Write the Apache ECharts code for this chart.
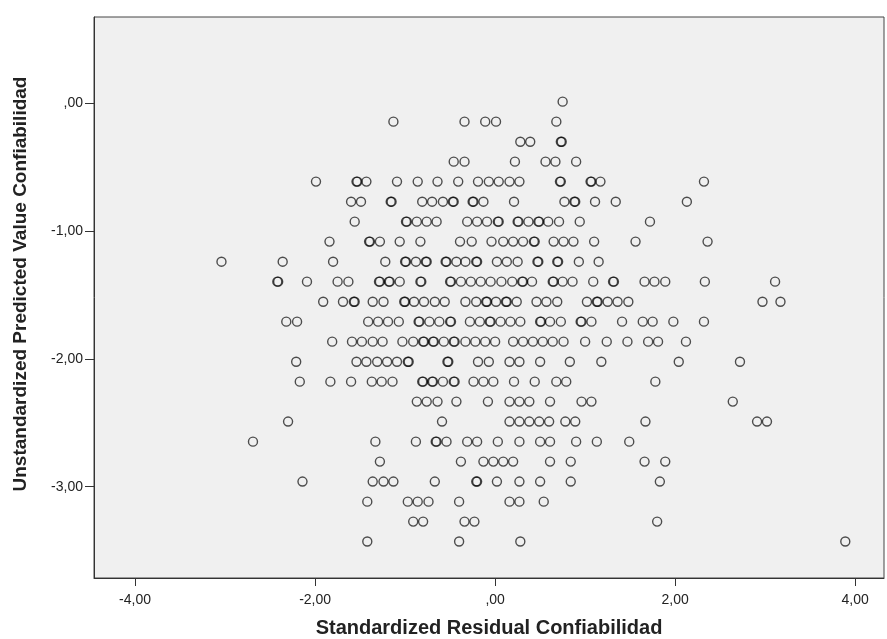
<!DOCTYPE html>
<html>
<head>
<meta charset="utf-8">
<script src="https://cdn.jsdelivr.net/npm/echarts@6/dist/echarts.min.js"></script>
<style>
  html, body { margin: 0; padding: 0; background: #ffffff; }
  #chart { width: 887px; height: 639px; }
</style>
</head>
<body>
<div id="chart"></div>
<script>
// Predicted values come in discrete levels; each level has its own residuals.
const levelY = [0.010, -0.146, -0.303, -0.459, -0.615, -0.772, -0.928, -1.084, -1.241, -1.397,
  -1.554, -1.710, -1.866, -2.023, -2.179, -2.335, -2.491, -2.648, -2.804, -2.960,
  -3.117, -3.273, -3.429];

// Standardized residuals observed at each predicted level (same order as levelY)
const residuals = [
  [0.75],
  [-1.13, -0.34, -0.11, 0.01, 0.68],
  [0.28, 0.39, 0.73, 0.74],
  [-0.46, -0.34, 0.22, 0.56, 0.67, 0.90],
  [-1.99, -1.54, -1.53, -1.43, -1.09, -0.86, -0.64, -0.41, -0.19, -0.07, 0.04, 0.16, 0.27, 0.72, 0.73, 1.06, 1.07, 1.17, 2.32],
  [-1.60, -1.49, -1.16, -1.15, -0.81, -0.70, -0.58, -0.47, -0.46, -0.25, -0.24, -0.13, 0.21, 0.77, 0.88, 0.89, 1.11, 1.34, 2.13],
  [-1.56, -0.99, -0.98, -0.87, -0.76, -0.65, -0.31, -0.20, -0.09, 0.03, 0.04, 0.25, 0.26, 0.37, 0.48, 0.49, 0.59, 0.71, 0.94, 1.72],
  [-1.84, -1.40, -1.39, -1.28, -1.06, -0.83, -0.39, -0.26, -0.04, 0.09, 0.20, 0.31, 0.43, 0.44, 0.65, 0.76, 0.87, 1.10, 1.56, 2.36],
  [-3.04, -2.36, -1.80, -1.22, -1.00, -0.99, -0.88, -0.77, -0.76, -0.55, -0.54, -0.43, -0.33, -0.21, -0.20, 0.02, 0.13, 0.25, 0.47, 0.48, 0.69, 0.70, 0.93, 1.15],
  [-2.42, -2.41, -2.09, -1.75, -1.63, -1.29, -1.28, -1.18, -1.17, -1.06, -0.83, -0.82, -0.50, -0.49, -0.38, -0.27, -0.16, -0.05, 0.07, 0.19, 0.30, 0.31, 0.41, 0.64, 0.65, 0.75, 0.86, 1.09, 1.31, 1.32, 1.66, 1.77, 1.89, 2.33, 3.11],
  [-1.91, -1.69, -1.57, -1.56, -1.36, -1.24, -1.01, -1.00, -0.90, -0.79, -0.67, -0.56, -0.33, -0.21, -0.10, -0.09, 0.01, 0.12, 0.13, 0.24, 0.46, 0.57, 0.69, 1.02, 1.13, 1.14, 1.25, 1.36, 1.48, 2.97, 3.17],
  [-2.32, -2.20, -1.41, -1.30, -1.19, -1.07, -0.85, -0.84, -0.73, -0.62, -0.50, -0.49, -0.28, -0.17, -0.06, -0.05, 0.06, 0.17, 0.28, 0.50, 0.51, 0.61, 0.73, 0.95, 0.96, 1.07, 1.41, 1.64, 1.75, 1.98, 2.32],
  [-1.81, -1.59, -1.48, -1.36, -1.25, -1.03, -0.91, -0.80, -0.79, -0.69, -0.68, -0.57, -0.46, -0.45, -0.33, -0.22, -0.11, 0.00, 0.20, 0.31, 0.42, 0.53, 0.64, 0.76, 1.00, 1.24, 1.47, 1.70, 1.81, 2.12],
  [-2.21, -1.54, -1.43, -1.31, -1.20, -1.09, -0.97, -0.96, -0.53, -0.52, -0.19, -0.07, 0.16, 0.27, 0.50, 0.83, 1.18, 2.04, 2.72],
  [-2.17, -1.83, -1.60, -1.37, -1.26, -1.14, -0.81, -0.80, -0.70, -0.69, -0.58, -0.46, -0.45, -0.24, -0.13, -0.02, 0.21, 0.44, 0.68, 0.79, 1.78],
  [-0.87, -0.76, -0.64, -0.43, -0.08, 0.16, 0.27, 0.38, 0.61, 0.96, 1.07, 2.64],
  [-2.30, -0.59, 0.16, 0.27, 0.38, 0.49, 0.60, 0.78, 0.89, 1.67, 2.91, 3.02],
  [-2.69, -1.33, -0.88, -0.66, -0.65, -0.54, -0.31, -0.20, 0.03, 0.27, 0.50, 0.61, 0.90, 1.13, 1.49],
  [-1.28, -0.38, -0.13, -0.02, 0.09, 0.20, 0.61, 0.84, 1.66, 1.89],
  [-2.14, -1.36, -1.24, -1.13, -0.67, -0.21, -0.20, 0.02, 0.27, 0.50, 0.84, 1.83],
  [-1.42, -0.97, -0.86, -0.74, -0.40, 0.16, 0.27, 0.54],
  [-0.91, -0.80, -0.34, -0.23, 1.80],
  [-1.42, -0.40, 0.28, 3.89]
];

const xTicks = [-4, -2, 0, 2, 4];
const yTicks = [0, -1, -2, -3];
const xTitle = 'Standardized Residual Confiabilidad';
const yTitle = 'Unstandardized Predicted Value Confiabilidad';

const points = [];
residuals.forEach((row, i) => row.forEach(x => points.push([x, levelY[i]])));

// Decimal comma labels; zero is written as ",00"
const fmt = v => {
  const s = Math.abs(v).toFixed(2).replace('.', ',').replace(/^0/, '');
  return (v < 0 ? '-' : '') + s;
};

const FONT = '"Liberation Sans", Arial, sans-serif';
const chart = echarts.init(document.getElementById('chart'), null, { renderer: 'canvas' });
chart.setOption({
  backgroundColor: '#ffffff',
  animation: false,
  grid: {
    left: 94, right: 3, top: 17, bottom: 61,
    outerBoundsMode: 'none',
    show: true, backgroundColor: '#f0f0f0', borderColor: '#444', borderWidth: 1
  },
  xAxis: {
    type: 'value', min: -4.456, max: 4.32,
    name: xTitle,
    nameLocation: 'middle', nameGap: 40,
    nameTextStyle: { fontFamily: FONT, fontWeight: 'bold', fontSize: 20, color: '#222' },
    axisLine: { show: true, onZero: false, lineStyle: { color: '#333', width: 1 } },
    axisTick: { show: true, length: 8, customValues: xTicks, lineStyle: { color: '#333' } },
    axisLabel: { customValues: xTicks, formatter: fmt, fontFamily: FONT, fontSize: 14, color: '#222', margin: 15 },
    splitLine: { show: false }
  },
  yAxis: {
    type: 'value', min: -3.714, max: 0.672,
    axisLine: { show: true, onZero: false, lineStyle: { color: '#333', width: 1 } },
    axisTick: { show: true, length: 9, customValues: yTicks, lineStyle: { color: '#333' } },
    axisLabel: { customValues: yTicks, formatter: fmt, fontFamily: FONT, fontSize: 14, color: '#222', margin: 11 },
    splitLine: { show: false }
  },
  graphic: [{
    type: 'text',
    x: 21, y: 284,
    rotation: Math.PI / 2,
    style: {
      text: yTitle,
      font: 'bold 19px ' + FONT,
      fill: '#222',
      textAlign: 'center',
      textVerticalAlign: 'middle'
    }
  }],
  series: [{
    type: 'scatter',
    data: points,
    symbol: 'circle',
    symbolSize: 9,
    itemStyle: { color: 'rgba(0,0,0,0)', borderColor: 'rgba(0,0,0,0.85)', borderWidth: 1.4 }
  }]
});
</script>
</body>
</html>
